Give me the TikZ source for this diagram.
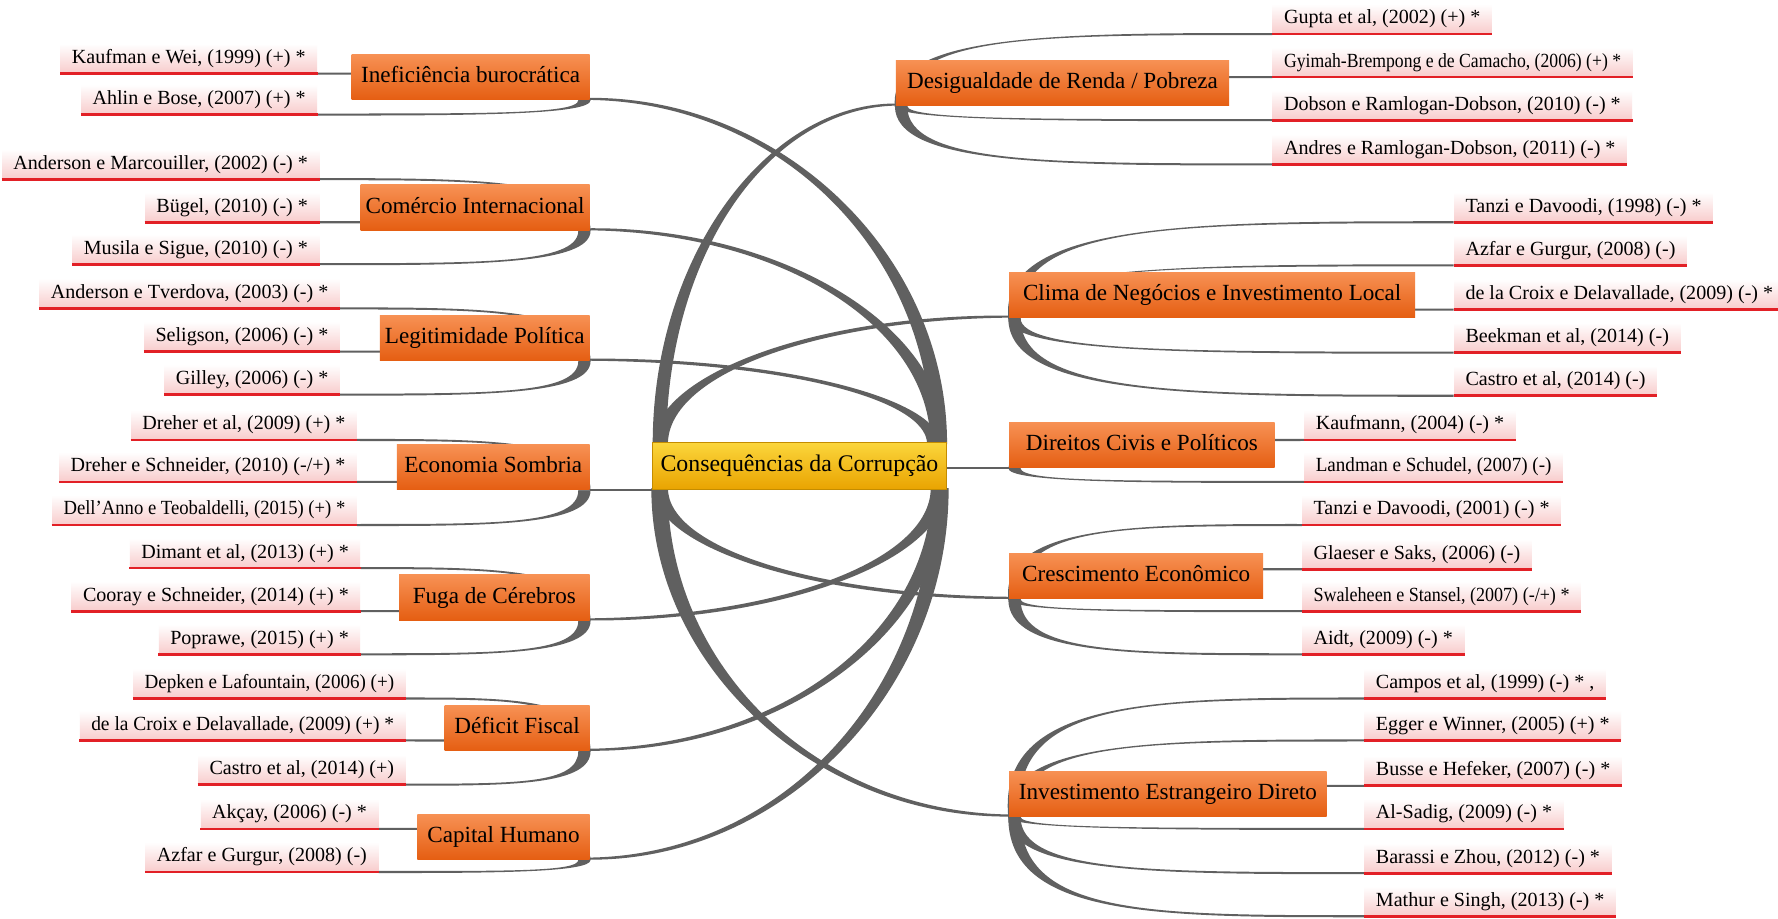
\documentclass[tikz,border=0pt]{standalone}
\usepackage{fontspec}
\setmainfont{Liberation Serif}
\pgfdeclarelayer{bg}
\pgfdeclarelayer{links}
\pgfsetlayers{bg,links,main}

\definecolor{conngray}{RGB}{96,96,96}
\definecolor{labpink}{RGB}{248,204,204}
\definecolor{ulred}{RGB}{226,32,38}
\definecolor{cattop}{RGB}{247,145,84}
\definecolor{catbot}{RGB}{229,94,18}
\definecolor{hubtop}{RGB}{251,214,60}
\definecolor{hubbot}{RGB}{233,163,0}
\definecolor{hubedge}{RGB}{196,140,0}

\newcommand\labfont{\fontsize{8.85}{10}\selectfont}
\newcommand\catfont{\fontsize{10.2}{12}\selectfont}
\newcommand\hubfont{\fontsize{10.5}{12}\selectfont}
\newcommand\narrow[2]{\scalebox{#1}[1]{#2}}

\tikzset{
  conn/.style={fill=conngray},
  thinlink/.style={draw=conngray, line width=0.9pt},
  lab/.style={top color=white, bottom color=labpink, font=\labfont,
    minimum height=13pt, inner xsep=5pt, inner ysep=0pt,
    text height=6.3pt, text depth=1.8pt},
  uline/.style={draw=ulred, line width=1.2pt},
  cat/.style={top color=cattop, bottom color=catbot, font=\catfont,
    inner sep=0pt, minimum height=20pt, text height=7pt, text depth=2pt},
  hubbox/.style={top color=hubtop, bottom color=hubbot, draw=hubedge,
    line width=0.4pt, minimum width=130pt, minimum height=21pt,
    inner sep=0pt, font=\hubfont, text height=7.2pt, text depth=2.2pt}
}

% anchor of a node as plain numbers (pt)
\newdimen\anchX
\newdimen\anchY
\newcommand\anchorxy[4]{%
  \pgfextractx{\anchX}{\pgfpointanchor{#1}{#2}}%
  \pgfextracty{\anchY}{\pgfpointanchor{#1}{#2}}%
  \pgfmathsetmacro#3{\the\anchX}%
  \pgfmathsetmacro#4{\the\anchY}}

% tapered Bezier band: half width #9 at P0, \midw near P2, \thinw at P3
\newcommand\thinw{0.45}
\newcommand\midw{0.45}
\newcommand\taperfill[9]{%
  \pgfmathsetmacro\tfdxa{(#3)-(#1)}%
  \pgfmathsetmacro\tfdya{(#4)-(#2)}%
  \pgfmathsetmacro\tfla{max(100*veclen((\tfdxa)/100,(\tfdya)/100),0.01)}%
  \pgfmathsetmacro\tfnxa{0-(\tfdya)/(\tfla)*(#9)}%
  \pgfmathsetmacro\tfnya{(\tfdxa)/(\tfla)*(#9)}%
  \pgfmathsetmacro\tfdxb{(#7)-(#5)}%
  \pgfmathsetmacro\tfdyb{(#8)-(#6)}%
  \pgfmathsetmacro\tflb{max(100*veclen((\tfdxb)/100,(\tfdyb)/100),0.01)}%
  \pgfmathsetmacro\tfnxb{0-(\tfdyb)/(\tflb)*(\thinw)}%
  \pgfmathsetmacro\tfnyb{(\tfdxb)/(\tflb)*(\thinw)}%
  \pgfmathsetmacro\tfnxm{0-(\tfdyb)/(\tflb)*(\midw)}%
  \pgfmathsetmacro\tfnym{(\tfdxb)/(\tflb)*(\midw)}%
  \pgfmathsetmacro\tfAzx{(#1)+(\tfnxa)}\pgfmathsetmacro\tfAzy{(#2)+(\tfnya)}%
  \pgfmathsetmacro\tfAox{(#3)+(\tfnxa)}\pgfmathsetmacro\tfAoy{(#4)+(\tfnya)}%
  \pgfmathsetmacro\tfAtx{(#5)+(\tfnxm)}\pgfmathsetmacro\tfAty{(#6)+(\tfnym)}%
  \pgfmathsetmacro\tfAhx{(#7)+(\tfnxb)}\pgfmathsetmacro\tfAhy{(#8)+(\tfnyb)}%
  \pgfmathsetmacro\tfBzx{(#1)-(\tfnxa)}\pgfmathsetmacro\tfBzy{(#2)-(\tfnya)}%
  \pgfmathsetmacro\tfBox{(#3)-(\tfnxa)}\pgfmathsetmacro\tfBoy{(#4)-(\tfnya)}%
  \pgfmathsetmacro\tfBtx{(#5)-(\tfnxm)}\pgfmathsetmacro\tfBty{(#6)-(\tfnym)}%
  \pgfmathsetmacro\tfBhx{(#7)-(\tfnxb)}\pgfmathsetmacro\tfBhy{(#8)-(\tfnyb)}%
  \fill[conn] (\tfAzx pt,\tfAzy pt) .. controls (\tfAox pt,\tfAoy pt) and (\tfAtx pt,\tfAty pt) .. (\tfAhx pt,\tfAhy pt)
    -- (\tfBhx pt,\tfBhy pt) .. controls (\tfBtx pt,\tfBty pt) and (\tfBox pt,\tfBoy pt) .. (\tfBzx pt,\tfBzy pt) -- cycle;}

% hub corner -> topic corner
\newcommand\hub[8]{%
  \anchorxy{#1}{#2}\hbCx\hbCy
  \pgfmathsetmacro\hbCx{(\hbCx)+(#3)}\pgfmathsetmacro\hbCy{(\hbCy)+(#4)}%
  \anchorxy{#5}{#6}\hbEx\hbEy
  \pgfmathsetmacro\hbEx{(\hbEx)+(#7)}\pgfmathsetmacro\hbEy{(\hbEy)+0.6}%
  \pgfmathsetmacro\hbPy{(\hbCy)+0.55*((\hbEy)-(\hbCy))}%
  \pgfmathsetmacro\hbQx{(\hbEx)+0.55*((\hbCx)-(\hbEx))}%
  \pgfmathsetmacro\midw{0.38*(#8)}%
  \taperfill{\hbCx}{\hbCy}{\hbCx}{\hbPy}{\hbQx}{\hbEy}{\hbEx}{\hbEy}{#8}}

% topic on the left -> reference label
\newcommand\brL[3]{%
  \anchorxy{#1}{south east}\blCx\blCy
  \pgfmathsetmacro\blCx{(\blCx)-2.5}%
  \anchorxy{#2}{south east}\blEx\blEy
  \pgfmathsetmacro\blKx{(\blCx)-0.4*((\blCx)-(\blEx))}%
  \def\midw{0.5}%
  \taperfill{\blCx}{\blCy}{\blCx}{\blEy}{\blKx}{\blEy}{\blEx}{\blEy}{#3}}

% topic on the right -> reference label
\newcommand\brR[3]{%
  \anchorxy{#1}{south west}\brCx\brCy
  \pgfmathsetmacro\brCx{(\brCx)+2.5}%
  \anchorxy{#2}{south west}\brEx\brEy
  \pgfmathsetmacro\brJx{(\brCx)-0.1*max((\brEy)-(\brCy),0)}%
  \pgfmathsetmacro\brKx{(\brCx)+0.4*((\brEx)-(\brCx))}%
  \def\midw{0.5}%
  \taperfill{\brCx}{\brCy}{\brJx}{\brEy}{\brKx}{\brEy}{\brEx}{\brEy}{#3}}

\newcommand\catbox[6]{%
  \pgfmathsetmacro\cbw{((#3)-(#2))*0.5}%
  \node[cat, minimum width=\cbw pt] (#1) at ({((#2)+(#3))/2},{((#4)+(#5))/2}) {#6};}
\newcommand\labL[4]{%
  \node[lab, anchor=south east] (#1) at (#2,#3) {#4};
  \draw[uline] (#1.south west) -- (#1.south east);}
\newcommand\labR[4]{%
  \node[lab, anchor=south west] (#1) at (#2,#3) {#4};
  \draw[uline] (#1.south west) -- (#1.south east);}

\begin{document}
\begin{tikzpicture}[x=0.5pt,y=-0.5pt]
\begin{pgfonlayer}{bg}
  \fill[white] (0,0) rectangle (1568,810);
\end{pgfonlayer}
\useasboundingbox (0,0) rectangle (1568,810);

% central topic
\node[hubbox] (hub) at (705,411) {Consequências da Corrupção};

% topics, left column
\catbox{ine}{310}{520}{48}{88}{Ineficiência burocrática}
\catbox{com}{318}{520}{163}{203}{Comércio Internacional}
\catbox{leg}{335}{520}{278}{318}{Legitimidade Política}
\catbox{eco}{350}{520}{392}{432}{Economia Sombria}
\catbox{fug}{352}{520}{507}{547}{Fuga de Cérebros}
\catbox{def}{392}{520}{622}{662}{Déficit Fiscal}
\catbox{cap}{368}{520}{718}{758}{Capital Humano}

% topics, right column
\catbox{des}{790}{1084}{53}{93}{Desigualdade de Renda / Pobreza}
\catbox{cli}{890}{1248}{240}{280}{Clima de Negócios e Investimento Local}
\catbox{dir}{890}{1124}{372}{413}{Direitos Civis e Políticos}
\catbox{cre}{890}{1114}{488}{528}{Crescimento Econômico}
\catbox{inv}{890}{1170}{680}{720}{Investimento Estrangeiro Direto}

% references, left column
\labL{kau}{280}{65}{Kaufman e Wei, (1999) (+) *}
\labL{ahl}{280}{101}{Ahlin e Bose, (2007) (+) *}
\labL{andm}{282}{158}{Anderson e Marcouiller, (2002) (-) *}
\labL{bug}{282}{196}{Bügel, (2010) (-) *}
\labL{mus}{282}{233}{Musila e Sigue, (2010) (-) *}
\labL{andt}{300}{272}{Anderson e Tverdova, (2003) (-) *}
\labL{sel}{300}{310}{Seligson, (2006) (-) *}
\labL{gil}{300}{348}{Gilley, (2006) (-) *}
\labL{dre}{315}{388}{Dreher et al, (2009) (+) *}
\labL{drs}{315}{425}{Dreher e Schneider, (2010) (-/+) *}
\labL{del}{315}{463}{\narrow{0.93}{Dell'Anno e Teobaldelli, (2015) (+) *}}
\labL{dim}{318}{501}{Dimant et al, (2013) (+) *}
\labL{coo}{318}{539}{Cooray e Schneider, (2014) (+) *}
\labL{pop}{318}{577}{Poprawe, (2015) (+) *}
\labL{dep}{358}{616}{\narrow{0.95}{Depken e Lafountain, (2006) (+)}}
\labL{dlc}{358}{653}{\narrow{0.97}{de la Croix e Delavallade, (2009) (+) *}}
\labL{cas}{358}{692}{Castro et al, (2014) (+)}
\labL{akc}{334}{731}{Akçay, (2006) (-) *}
\labL{azf}{334}{769}{Azfar e Gurgur, (2008) (-)}

% references, right column
\labR{gup}{1122}{30}{Gupta et al, (2002) (+) *}
\labR{gyi}{1122}{68}{\narrow{0.88}{Gyimah-Brempong e de Camacho, (2006) (+) *}}
\labR{dob}{1122}{106}{Dobson e Ramlogan-Dobson, (2010) (-) *}
\labR{adr}{1122}{145}{Andres e Ramlogan-Dobson, (2011) (-) *}
\labR{tan}{1282}{196}{Tanzi e Davoodi, (1998) (-) *}
\labR{azr}{1282}{234}{Azfar e Gurgur, (2008) (-)}
\labR{dlr}{1282}{273}{de la Croix e Delavallade, (2009) (-) *}
\labR{bee}{1282}{311}{Beekman et al, (2014) (-)}
\labR{car}{1282}{349}{Castro et al, (2014) (-)}
\labR{kfm}{1150}{388}{Kaufmann, (2004) (-) *}
\labR{lan}{1150}{425}{\narrow{0.95}{Landman e Schudel, (2007) (-)}}
\labR{tzb}{1148}{463}{Tanzi e Davoodi, (2001) (-) *}
\labR{gla}{1148}{502}{Glaeser e Saks, (2006) (-)}
\labR{swa}{1148}{539}{\narrow{0.9}{Swaleheen e Stansel, (2007) (-/+) *}}
\labR{aid}{1148}{577}{Aidt, (2009) (-) *}
\labR{cam}{1203}{616}{Campos et al, (1999) (-) * ,}
\labR{egg}{1203}{653}{Egger e Winner, (2005) (+) *}
\labR{bus}{1203}{693}{Busse e Hefeker, (2007) (-) *}
\labR{als}{1203}{731}{Al-Sadig, (2009) (-) *}
\labR{bar}{1203}{770}{Barassi e Zhou, (2012) (-) *}
\labR{mat}{1203}{808}{Mathur e Singh, (2013) (-) *}

\begin{pgfonlayer}{links}
  % hub to topics
  \hub{hub}{north east}{-3.5}{-1}{ine}{south east}{-1}{3.4}
  \hub{hub}{north east}{-4}{-1}{com}{south east}{-1}{3.4}
  \hub{hub}{north east}{-6}{-1}{leg}{south east}{-1}{2.9}
  \hub{hub}{north west}{3.5}{-1}{des}{south west}{1}{3}
  \hub{hub}{north west}{4}{-1}{cli}{south west}{1}{3.2}
  \hub{hub}{south east}{-4}{1}{fug}{south east}{-1}{3.3}
  \hub{hub}{south east}{-3.5}{1}{def}{south east}{-1}{3.4}
  \hub{hub}{south east}{-3}{1}{cap}{south east}{-1}{3.6}
  \hub{hub}{south west}{4}{1}{cre}{south west}{1}{3.2}
  \hub{hub}{south west}{3.5}{1}{inv}{south west}{1}{3.6}
  \draw[thinlink] (eco.south east) -- (hub.south west);
  \draw[thinlink] (dir.south west) -- (hub.east |- dir.south west);

  % topics to references
  \brL{ine}{kau}{2.7}\brL{ine}{ahl}{2.7}
  \brL{com}{andm}{2.7}\brL{com}{bug}{2.7}\brL{com}{mus}{2.7}
  \brL{leg}{andt}{2.7}\brL{leg}{sel}{2.7}\brL{leg}{gil}{2.7}
  \brL{eco}{dre}{2.7}\brL{eco}{drs}{2.7}\brL{eco}{del}{2.7}
  \brL{fug}{dim}{2.7}\brL{fug}{coo}{2.7}\brL{fug}{pop}{2.7}
  \brL{def}{dep}{2.7}\brL{def}{dlc}{2.7}\brL{def}{cas}{2.7}
  \brL{cap}{akc}{2.7}\brL{cap}{azf}{2.7}
  \brR{des}{gup}{2.7}\brR{des}{gyi}{2.7}\brR{des}{dob}{2.7}\brR{des}{adr}{2.7}
  \brR{cli}{tan}{2.7}\brR{cli}{azr}{2.7}\brR{cli}{dlr}{2.7}\brR{cli}{bee}{2.7}\brR{cli}{car}{2.7}
  \brR{dir}{kfm}{2.7}\brR{dir}{lan}{2.7}
  \brR{cre}{tzb}{2.7}\brR{cre}{gla}{2.7}\brR{cre}{swa}{2.7}\brR{cre}{aid}{2.7}
  \brR{inv}{cam}{2.7}\brR{inv}{egg}{2.7}\brR{inv}{bus}{2.7}\brR{inv}{als}{2.7}\brR{inv}{bar}{2.7}\brR{inv}{mat}{2.7}
\end{pgfonlayer}
\end{tikzpicture}
\end{document}
